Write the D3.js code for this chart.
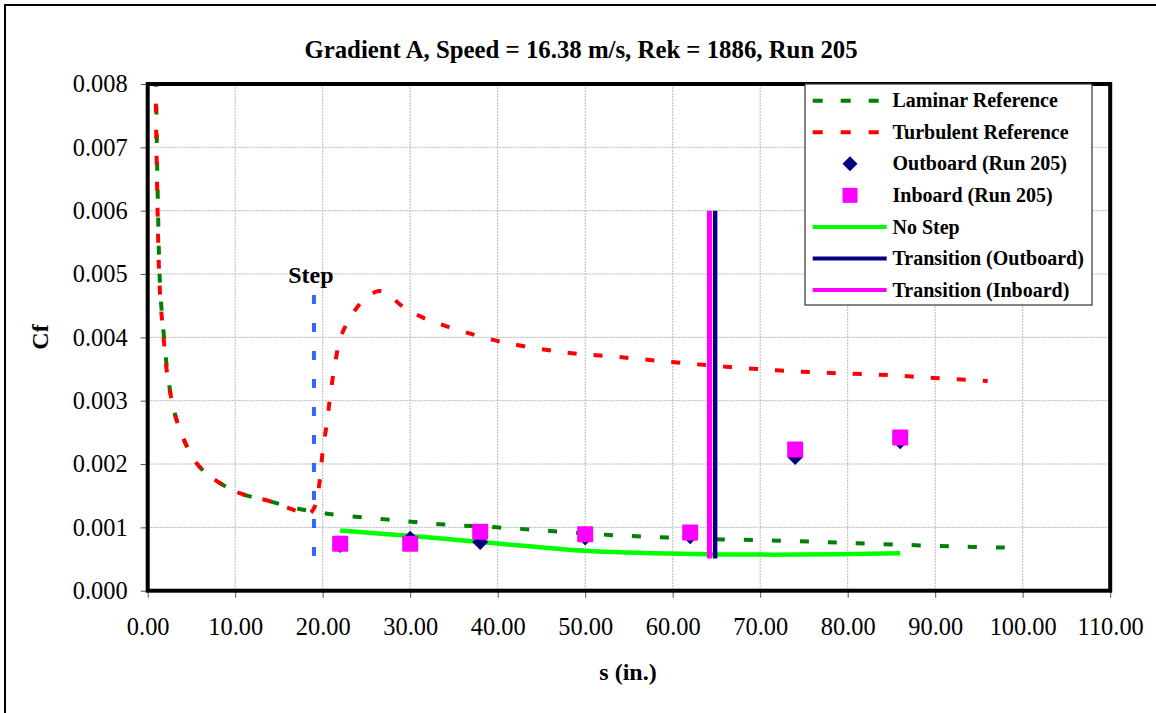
<!DOCTYPE html>
<html><head><meta charset="utf-8">
<script src="https://cdn.jsdelivr.net/npm/d3@7"></script>
<style>body{margin:0;background:#fff}svg{display:block}svg text{font-family:'Liberation Serif','Times New Roman',Tinos,'DejaVu Serif',serif !important}</style>
</head><body>
<svg id="c" width="1156" height="713"></svg>
<script>
const xTicks = [0,10,20,30,40,50,60,70,80,90,100,110];
const yTicks = [0,0.001,0.002,0.003,0.004,0.005,0.006,0.007,0.008];
const laminar = [[0.95,0.0081],[1.05,0.007],[1.18,0.006],[1.33,0.0051],[1.5,0.0046],[1.8,0.0041],[2.3,0.0034],[3.0,0.00285],[3.9,0.00246],[5.6,0.00201],[7.7,0.00175],[10.5,0.00154],[14,0.00141],[17,0.0013],[20.3,0.00122],[26.9,0.00113],[33.4,0.00105],[39.9,0.001],[46.4,0.00094],[52.8,0.00088],[59.3,0.00084],[65.8,0.00081],[72.3,0.00079],[78.7,0.00076],[85,0.00073],[92,0.0007],[98,0.00068]];
const turbulent = [[0.9,0.0081],[1.0,0.007],[1.13,0.006],[1.28,0.0051],[1.45,0.0046],[1.75,0.0041],[2.25,0.0034],[3.0,0.00285],[3.9,0.00246],[5.6,0.00201],[7.7,0.00175],[10.5,0.00154],[14,0.00141],[17.0,0.00126],[18.3,0.0012],[19.0,0.0013],[19.4,0.0015],[19.7,0.00178],[20.0,0.0022],[20.5,0.00267],[20.9,0.00312],[21.4,0.00357],[22.1,0.00402],[23.7,0.00443],[25.0,0.00463],[26.4,0.00473],[27.5,0.00468],[29.0,0.0045],[31,0.00434],[33.6,0.0042],[38.6,0.00399],[41.8,0.00389],[47.8,0.00376],[53.8,0.00369],[59.9,0.00361],[65.8,0.00354],[71.9,0.00348],[77.6,0.00344],[83.7,0.00341],[89.8,0.00336],[96,0.00331]];
const stations = [22,30,38,50,62,74,86];
const outboard = [0.00072,0.00082,0.00077,0.00084,0.00086,0.00211,0.00236];
const inboard = [0.00074,0.00074,0.00093,0.00089,0.00092,0.00223,0.00242];
const noStep = [0.00095,0.000865,0.00077,0.00063,0.00058,0.00057,0.00059];
const stepLine = [[19.0,0.00467],[19.0,0.00052]];
const transOutboard = [[64.85,0.006],[64.85,0.00051]];
const transInboard = [[64.2,0.006],[64.2,0.00051]];
const legendLabels = ["Laminar Reference","Turbulent Reference","Outboard (Run 205)","Inboard (Run 205)","No Step","Transition (Outboard)","Transition (Inboard)"];

const FONT = "'Liberation Serif','Times New Roman',Tinos,'DejaVu Serif',serif";
const svg = d3.select("#c");
const L=147.7,R=1110.2,T=84,B=590.7;
const x = d3.scaleLinear([0,110],[L,R]);
const y = d3.scaleLinear([0,0.008],[B,T]);

svg.append("rect").attr("x",5).attr("y",5).attr("width",1160).attr("height",720).attr("fill","none").attr("stroke","#000").attr("stroke-width",2);

svg.append("defs").append("clipPath").attr("id","clip").append("rect").attr("x",L).attr("y",T).attr("width",R-L).attr("height",B-T);

// grid
const g = svg.append("g");
g.selectAll(".vx").data(xTicks.slice(1,-1)).join("line").attr("x1",d=>x(d)).attr("x2",d=>x(d)).attr("y1",T).attr("y2",B).attr("stroke","#b8b8b8").attr("stroke-dasharray","2,1");
g.selectAll(".hy").data(yTicks.slice(1,-1)).join("line").attr("y1",d=>y(d)).attr("y2",d=>y(d)).attr("x1",L).attr("x2",R).attr("stroke","#b8b8b8").attr("stroke-dasharray","2,1");

// axes
const ax = svg.append("g").attr("transform",`translate(0,${B})`).call(d3.axisBottom(x).tickValues(xTicks).tickFormat(d3.format(".2f")).tickSize(7).tickPadding(20));
const ay = svg.append("g").attr("transform",`translate(${L},0)`).call(d3.axisLeft(y).tickValues(yTicks).tickFormat(d3.format(".3f")).tickSize(7).tickPadding(13));
[ax,ay].forEach(a=>{a.attr("font-family",FONT);a.select(".domain").remove();a.selectAll("text").attr("font-size",24.4).attr("font-family",FONT).attr("fill","#000");a.selectAll("line").attr("stroke","#555");});

const plot = svg.append("g").attr("clip-path","url(#clip)");
const line = d3.line().x(d=>x(d[0])).y(d=>y(d[1])).curve(d3.curveCatmullRom.alpha(0.5));
const straight = d3.line().x(d=>x(d[0])).y(d=>y(d[1]));

plot.append("path").attr("d",line(laminar)).attr("fill","none").attr("stroke","#008000").attr("stroke-width",4).attr("stroke-dasharray","9,19");
plot.append("path").attr("d",line(turbulent)).attr("fill","none").attr("stroke","#ff0000").attr("stroke-width",4).attr("stroke-dasharray","9,17");
plot.append("path").attr("d",straight(stepLine)).attr("fill","none").attr("stroke","#3366ff").attr("stroke-width",4).attr("stroke-dasharray","9,19");
plot.append("path").attr("d",line(stations.map((s,i)=>[s,noStep[i]]))).attr("fill","none").attr("stroke","#00ff00").attr("stroke-width",4.5);
plot.append("path").attr("d",straight(transInboard)).attr("stroke","#ff00ff").attr("stroke-width",5);
plot.append("path").attr("d",straight(transOutboard)).attr("stroke","#000080").attr("stroke-width",4.5);
plot.selectAll(".dia").data(stations.map((s,i)=>[s,outboard[i]])).join("path").attr("d","M0,-8L8,0L0,8L-8,0Z").attr("fill","#000080").attr("transform",d=>`translate(${x(d[0])},${y(d[1])})`);
plot.selectAll(".sq").data(stations.map((s,i)=>[s,inboard[i]])).join("rect").attr("x",d=>x(d[0])-8).attr("y",d=>y(d[1])-8).attr("width",16).attr("height",16).attr("rx",1).attr("fill","#ff00ff");

// plot border
svg.append("rect").attr("x",L).attr("y",T).attr("width",R-L).attr("height",B-T).attr("fill","none").attr("stroke","#000").attr("stroke-width",4);

const txt = (sel)=>sel.append("text").attr("font-family",FONT).attr("fill","#000");
// step label
txt(svg).attr("x",x(19.0)-3).attr("y",283).attr("text-anchor","middle").attr("font-weight","bold").attr("font-size",24).text("Step");

// titles
txt(svg).attr("x",581).attr("y",58).attr("text-anchor","middle").attr("font-weight","bold").attr("font-size",24.8).text("Gradient A, Speed = 16.38 m/s, Rek = 1886, Run 205");
txt(svg).attr("x",628).attr("y",680).attr("text-anchor","middle").attr("font-weight","bold").attr("font-size",24).text("s (in.)");
txt(svg).attr("transform","translate(48,337) rotate(-90)").attr("text-anchor","middle").attr("font-weight","bold").attr("font-size",24).text("Cf");

// legend
const lg = svg.append("g");
lg.append("rect").attr("x",805).attr("y",84).attr("width",287).attr("height",221).attr("fill","#fff").attr("stroke","#333").attr("stroke-width",1.2);
const rowY = i => 100.7 + i*31.55;
const items = lg.selectAll(".it").data(legendLabels).join("g").attr("transform",(d,i)=>`translate(0,${rowY(i)})`);
items.append("text").attr("font-family",FONT).attr("x",892.5).attr("dy","0.33em").attr("font-weight","bold").attr("font-size",20).text(d=>d);
const sw = [
  s=>s.append("line").attr("x1",812.7).attr("x2",880).attr("stroke","#008000").attr("stroke-width",4).attr("stroke-dasharray","10,18"),
  s=>s.append("line").attr("x1",812.7).attr("x2",880).attr("stroke","#ff0000").attr("stroke-width",4).attr("stroke-dasharray","10,18"),
  s=>s.append("path").attr("d","M850,-7.5L857.5,0L850,7.5L842.5,0Z").attr("fill","#000080"),
  s=>s.append("rect").attr("x",842.5).attr("y",-7.5).attr("width",15).attr("height",15).attr("fill","#ff00ff"),
  s=>s.append("line").attr("x1",812.7).attr("x2",886.7).attr("stroke","#00ff00").attr("stroke-width",4),
  s=>s.append("line").attr("x1",812.7).attr("x2",886.7).attr("stroke","#000080").attr("stroke-width",4),
  s=>s.append("line").attr("x1",812.7).attr("x2",886.7).attr("stroke","#ff00ff").attr("stroke-width",4)
];
items.each(function(d,i){sw[i](d3.select(this));});
</script>
</body></html>
